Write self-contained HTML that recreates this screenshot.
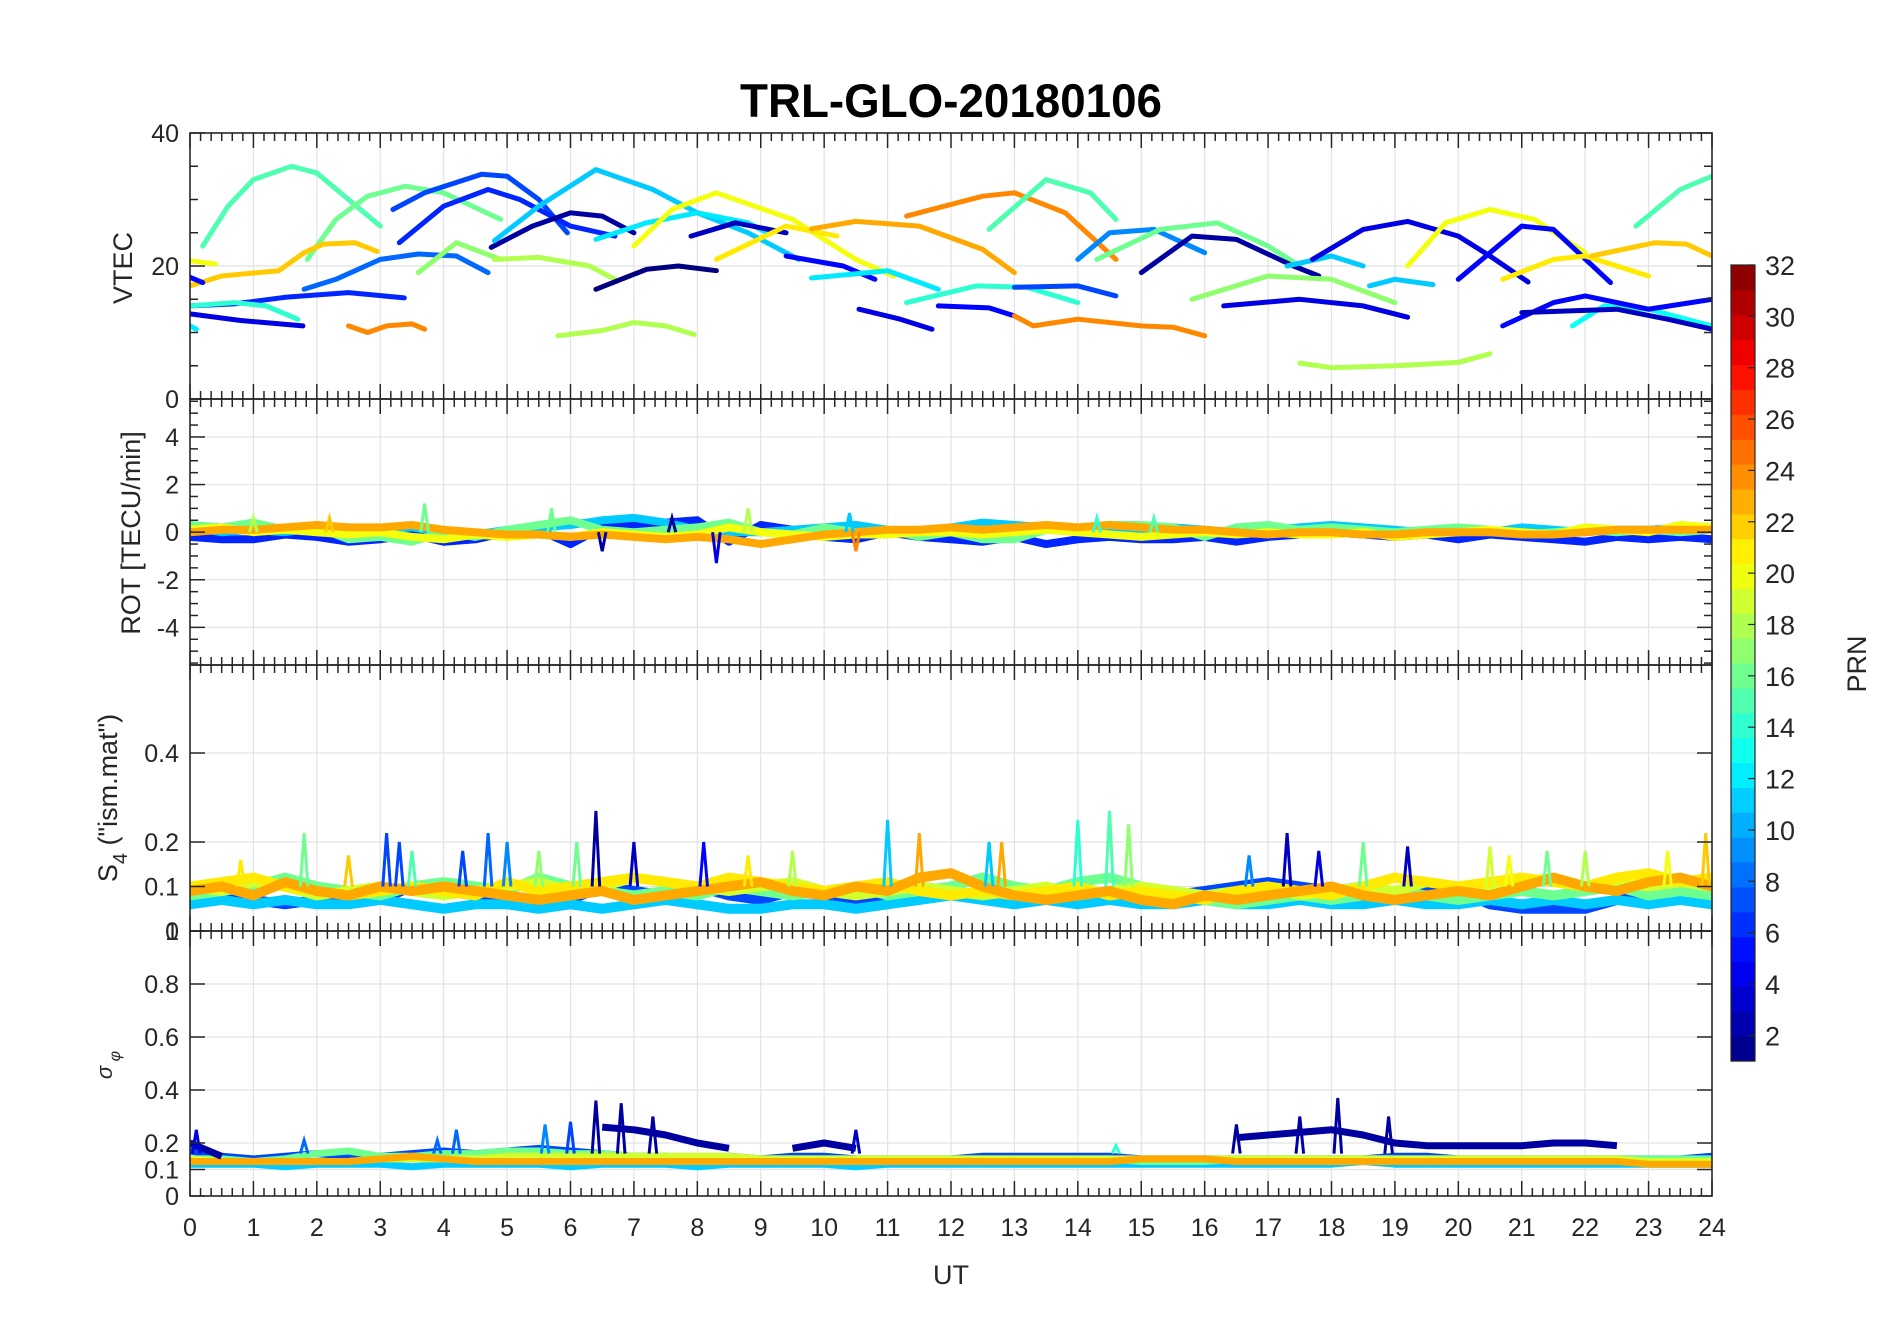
<!DOCTYPE html>
<html><head><meta charset="utf-8"><title>TRL-GLO-20180106</title>
<style>html,body{margin:0;padding:0;background:#fff}svg{display:block;font-family:"Liberation Sans",Arial,sans-serif}</style>
</head><body>
<svg id="chart" xmlns="http://www.w3.org/2000/svg" width="1902" height="1330" viewBox="0 0 1902 1330">
<rect x="0" y="0" width="1902" height="1330" fill="#fff"/>
<defs>
<clipPath id="c0"><rect x="190" y="133" width="1522" height="266"/></clipPath>
<clipPath id="c1"><rect x="190" y="399" width="1522" height="266"/></clipPath>
<clipPath id="c2"><rect x="190" y="665" width="1522" height="266"/></clipPath>
<clipPath id="c3"><rect x="190" y="931" width="1522" height="265"/></clipPath>
</defs>
<text x="951" y="117" text-anchor="middle" font-size="47" font-weight="bold" textLength="422" lengthAdjust="spacingAndGlyphs" fill="#000">TRL-GLO-20180106</text>
<g id="grid"></g>
<g id="marks"></g>
<g id="axes"></g>
<text x="951" y="1284" text-anchor="middle" font-size="27" fill="#262626">UT</text>
<text transform="translate(132,268) rotate(-90)" text-anchor="middle" font-size="27" fill="#262626">VTEC</text>
<text transform="translate(140,533) rotate(-90)" text-anchor="middle" font-size="27" fill="#262626">ROT [TECU/min]</text>
<text transform="translate(117,798) rotate(-90)" text-anchor="middle" font-size="27" fill="#262626">S<tspan font-size="20" dy="10">4</tspan><tspan dy="-10"> ("ism.mat")</tspan></text>
<text transform="translate(112,1065) rotate(-90)" text-anchor="middle" font-size="22" font-style="italic" fill="#262626">σ<tspan font-size="16" dy="8"> φ</tspan></text>
<g id="colorbar"></g>
<text transform="translate(1866,664) rotate(-90)" text-anchor="middle" font-size="27" fill="#262626">PRN</text>
</svg>
<script>
const hourTicks = [0,1,2,3,4,5,6,7,8,9,10,11,12,13,14,15,16,17,18,19,20,21,22,23,24];
const halfHours = [0,0.5,1,1.5,2,2.5,3,3.5,4,4.5,5,5.5,6,6.5,7,7.5,8,8.5,9,9.5,10,10.5,11,11.5,12,12.5,13,13.5,14,14.5,15,15.5,16,16.5,17,17.5,18,18.5,19,19.5,20,20.5,21,21.5,22,22.5,23,23.5,24];
const prnTicks = [2,4,6,8,10,12,14,16,18,20,22,24,26,28,30,32];
const vtecPrn = [15,16,22,20,5,6,4,14,12,8,24,7,6,17,2,11,18,12,20,1,3,21,5,23,24,12,14,15,7,5,4,24,18,9,16,2,17,4,18,11,11,4,20,5,21,22,15,13,5,3];
const vtecArcs = [
[[0.2,23],[0.6,29],[1.0,33],[1.6,35],[2.0,34],[2.5,30],[3.0,26]],
[[1.85,21],[2.3,27],[2.8,30.5],[3.4,32],[4.0,31],[4.9,27]],
[[0,17],[0.5,18.5],[1.4,19.3],[1.8,22],[2.1,23.3],[2.6,23.5],[2.95,22.2]],
[[0,20.8],[0.4,20.3]],
[[0,18.3],[0.2,17.5]],
[[0,14],[0.7,14.3],[1.5,15.3],[2.5,16],[3.38,15.2]],
[[0,12.8],[0.8,11.8],[1.78,11]],
[[0,14],[0.7,14.5],[1.2,14],[1.7,12]],
[[0,11],[0.1,10.5]],
[[1.8,16.5],[2.3,18],[3.0,21],[3.6,21.8],[4.2,21.5],[4.7,19]],
[[2.5,11],[2.8,10],[3.1,11],[3.5,11.3],[3.7,10.5]],
[[3.2,28.5],[3.7,31],[4.6,33.8],[5.0,33.5],[5.5,30],[5.95,25]],
[[3.3,23.5],[4.0,29],[4.7,31.5],[5.2,30],[6.0,26],[6.7,24.5]],
[[3.6,19],[4.2,23.5],[4.9,21]],
[[4.75,22.8],[5.4,26],[6.0,28],[6.5,27.5],[7.0,25]],
[[4.8,23.8],[5.5,29],[6.4,34.5],[7.3,31.5],[8.0,28],[8.8,25],[9.6,21]],
[[4.8,21],[5.5,21.3],[6.3,20],[6.7,18]],
[[6.4,24],[7.2,26.5],[8.0,28],[8.8,26.5],[9.1,25]],
[[7.0,23],[7.6,28.5],[8.3,31],[9.5,27],[10.5,21],[11.1,18.5]],
[[6.4,16.5],[7.2,19.5],[7.7,20],[8.3,19.3]],
[[7.9,24.5],[8.6,26.5],[9.4,25]],
[[8.3,21],[9.4,26],[10.2,24.5]],
[[9.4,21.5],[10.3,20],[10.8,18]],
[[9.8,25.6],[10.5,26.7],[11.5,26],[12.5,22.5],[13.0,19]],
[[11.3,27.5],[12.5,30.5],[13.0,31],[13.8,28],[14.6,21]],
[[9.8,18.2],[11.0,19.3],[11.8,16.5]],
[[11.3,14.5],[12.4,17],[13.2,16.8],[14.0,14.5]],
[[12.6,25.5],[13.5,33],[14.2,31],[14.6,27]],
[[13.0,16.8],[14.0,17],[14.6,15.5]],
[[11.8,14],[12.6,13.7],[13.0,12.5]],
[[10.55,13.5],[11.2,12],[11.7,10.5]],
[[13.0,12.5],[13.3,11],[14.0,12],[15.0,11],[15.5,10.8],[16.0,9.5]],
[[5.8,9.5],[6.5,10.3],[7.0,11.5],[7.5,11],[7.95,9.7]],
[[14.0,21],[14.5,25],[15.2,25.5],[16.0,22]],
[[14.3,21],[15.3,25.5],[16.2,26.5],[17.0,23],[17.5,20]],
[[15.0,19],[15.8,24.5],[16.5,24],[17.4,20],[17.8,18.5]],
[[15.8,15],[17.0,18.5],[18.0,18],[19.0,14.5]],
[[16.3,14],[17.5,15],[18.5,14],[19.2,12.3]],
[[17.5,5.4],[18.0,4.7],[19.0,5],[20.0,5.5],[20.5,6.8]],
[[17.3,20],[18.0,21.5],[18.5,20]],
[[18.6,17],[19.0,18],[19.6,17.2]],
[[17.7,21],[18.5,25.5],[19.2,26.7],[20.0,24.5],[20.5,21.5],[21.1,17.6]],
[[19.2,20],[19.8,26.5],[20.5,28.5],[21.2,27],[22.0,22]],
[[20.0,18],[21.0,26],[21.5,25.5],[22.4,17.5]],
[[20.7,18],[21.5,21],[22.0,21.5],[23.0,18.5]],
[[22.1,21.5],[23.1,23.5],[23.6,23.3],[24,21.5]],
[[22.8,26],[23.5,31.5],[24,33.5]],
[[21.8,11],[22.3,14],[23.0,13.5],[24,11]],
[[20.7,11],[21.5,14.5],[22.0,15.5],[23.0,13.5],[24,15]],
[[21.0,13],[22.5,13.5],[23.3,12],[24,10.5]]
];
const rotPrn = [6,11,16,20,23];
const rot6  = [-0.2,-0.3,-0.3,-0.1,-0.2,-0.4,-0.3,-0.1,-0.4,-0.3,0.0,0.1,-0.5,0.2,0.3,0.4,0.5,-0.4,0.3,0.1,-0.2,-0.3,0.0,-0.2,-0.3,-0.4,-0.2,-0.5,-0.3,-0.2,-0.3,-0.3,-0.2,-0.4,-0.2,-0.1,0.0,-0.1,-0.2,-0.1,-0.3,-0.1,-0.2,-0.3,-0.4,-0.2,-0.3,-0.2,-0.3];
const rot11 = [0.2,0.0,0.1,0.0,0.2,0.0,0.1,0.2,0.0,-0.1,0.1,0.2,0.3,0.5,0.6,0.4,0.1,0.0,0.0,0.1,0.2,0.3,0.1,0.0,0.2,0.4,0.3,0.2,0.1,0.0,0.1,0.2,0.1,0.0,0.1,0.2,0.3,0.2,0.1,0.0,0.1,0.0,0.2,0.1,0.0,0.1,0.1,0.2,0.1];
const rot16 = [0.3,0.2,0.4,0.1,0.2,-0.3,-0.2,-0.4,0.0,-0.2,0.1,0.3,0.5,0.1,0.0,0.1,0.2,0.4,0.0,-0.1,0.2,0.0,0.1,-0.2,0.0,-0.3,-0.3,0.1,0.2,0.3,0.3,0.2,-0.2,0.2,0.3,0.1,0.2,0.1,0.0,0.1,0.2,0.1,-0.1,0.0,0.1,0.0,0.1,0.0,0.1];
const rot20 = [0.1,0.2,0.0,0.1,0.0,-0.1,0.0,-0.2,-0.3,-0.1,-0.2,-0.1,-0.2,0.0,-0.1,-0.2,-0.1,0.2,0.0,-0.1,-0.2,-0.1,-0.1,0.0,0.0,-0.1,0.0,0.1,0.0,-0.1,-0.2,-0.1,0.0,-0.1,0.0,-0.1,-0.1,0.0,-0.2,-0.1,0.0,0.1,0.0,-0.1,0.2,0.1,0.0,0.3,0.2];
const rot23 = [0.0,0.1,0.1,0.2,0.3,0.2,0.2,0.3,0.1,0.0,-0.1,-0.1,-0.2,-0.1,-0.2,-0.3,-0.2,-0.3,-0.5,-0.3,-0.1,0.0,0.1,0.1,0.2,0.1,0.2,0.3,0.2,0.3,0.2,0.1,0.1,0.0,-0.1,0.0,0.0,-0.1,-0.1,0.0,0.0,0.0,-0.1,-0.1,0.0,0.1,0.1,0.1,0.1];
const rotSpikes = [[6.5,-0.8,2],[8.3,-1.3,4],[10.5,-0.8,24],[3.7,1.2,16],[5.7,1.0,16],[8.8,1.0,18],[10.4,0.8,11],[1.0,0.6,18],[7.6,0.6,2],[2.2,0.6,22],[14.3,0.6,14],[15.2,0.6,15]];
const s4Prn = [7,11,16,19,21,23];
const s4_7  = [0.08,0.09,0.07,0.06,0.07,0.08,0.07,0.10,0.09,0.08,0.07,0.06,0.07,0.10,0.09,0.08,0.10,0.08,0.07,0.09,0.08,0.07,0.08,0.10,0.09,0.08,0.09,0.08,0.07,0.08,0.07,0.08,0.09,0.10,0.11,0.10,0.09,0.10,0.08,0.10,0.09,0.06,0.05,0.05,0.05,0.07,0.08,0.09,0.08];
const s4_11 = [0.06,0.07,0.06,0.07,0.06,0.06,0.07,0.06,0.05,0.06,0.06,0.05,0.06,0.05,0.06,0.07,0.06,0.05,0.05,0.06,0.06,0.05,0.06,0.07,0.08,0.07,0.06,0.07,0.06,0.07,0.06,0.06,0.07,0.06,0.06,0.07,0.06,0.06,0.07,0.06,0.06,0.07,0.06,0.07,0.06,0.07,0.06,0.07,0.06];
const s4_16 = [0.08,0.09,0.10,0.12,0.10,0.09,0.08,0.10,0.11,0.10,0.09,0.12,0.10,0.09,0.08,0.09,0.08,0.10,0.09,0.08,0.09,0.10,0.08,0.09,0.10,0.12,0.10,0.09,0.11,0.12,0.10,0.08,0.07,0.06,0.07,0.08,0.07,0.08,0.09,0.08,0.07,0.08,0.09,0.08,0.09,0.10,0.08,0.09,0.08];
const s4_19 = [0.10,0.09,0.11,0.10,0.08,0.09,0.10,0.09,0.08,0.09,0.10,0.11,0.09,0.10,0.12,0.11,0.10,0.09,0.10,0.11,0.09,0.08,0.09,0.10,0.09,0.08,0.09,0.10,0.08,0.09,0.10,0.09,0.08,0.09,0.10,0.08,0.09,0.10,0.09,0.11,0.10,0.09,0.11,0.12,0.10,0.11,0.10,0.11,0.10];
const s4_21 = [0.10,0.11,0.12,0.10,0.09,0.08,0.09,0.10,0.09,0.08,0.11,0.09,0.10,0.11,0.12,0.11,0.10,0.12,0.11,0.10,0.09,0.10,0.11,0.09,0.08,0.09,0.08,0.09,0.10,0.08,0.09,0.08,0.07,0.09,0.10,0.09,0.08,0.10,0.12,0.11,0.10,0.11,0.12,0.11,0.10,0.12,0.13,0.11,0.12];
const s4_23 = [0.09,0.10,0.08,0.11,0.09,0.08,0.10,0.09,0.10,0.09,0.08,0.07,0.08,0.09,0.07,0.08,0.09,0.10,0.11,0.09,0.08,0.10,0.09,0.12,0.13,0.10,0.08,0.07,0.08,0.09,0.07,0.06,0.08,0.07,0.08,0.09,0.10,0.08,0.07,0.08,0.09,0.08,0.10,0.12,0.10,0.09,0.11,0.12,0.10];
const s4Spikes = [[1.8,0.22,16],[3.1,0.22,7],[3.3,0.20,7],[4.7,0.22,8],[5.0,0.20,9],[6.4,0.27,2],[6.1,0.20,16],[7.0,0.20,3],[8.1,0.20,5],[11.0,0.25,11],[11.5,0.22,23],[12.8,0.20,23],[12.6,0.20,11],[14.0,0.25,14],[14.5,0.27,15],[14.8,0.24,17],[17.3,0.22,3],[18.5,0.20,16],[19.2,0.19,3],[20.5,0.19,19],[22.0,0.18,18],[23.9,0.22,22],[3.5,0.18,15],[9.5,0.18,18],[2.5,0.17,22],[0.8,0.16,21],[5.5,0.18,17],[4.3,0.18,7],[8.8,0.17,21],[16.7,0.17,9],[17.8,0.18,4],[20.8,0.17,20],[21.4,0.18,16],[23.3,0.18,20]];
const sigPrn = [7,11,16,19,23,2];
const sig7  = [0.17,0.15,0.14,0.15,0.16,0.15,0.15,0.16,0.17,0.16,0.17,0.18,0.17,0.16,0.15,0.15,0.14,0.15,0.14,0.15,0.15,0.14,0.14,0.14,0.14,0.15,0.15,0.15,0.15,0.15,0.14,0.14,0.14,0.14,0.14,0.14,0.14,0.14,0.15,0.15,0.14,0.14,0.14,0.14,0.14,0.14,0.14,0.14,0.15];
const sig11 = [0.12,0.12,0.12,0.11,0.12,0.12,0.12,0.11,0.12,0.12,0.12,0.12,0.11,0.12,0.12,0.12,0.11,0.12,0.12,0.12,0.12,0.11,0.12,0.12,0.12,0.12,0.12,0.12,0.12,0.12,0.12,0.12,0.12,0.12,0.12,0.12,0.12,0.13,0.12,0.12,0.12,0.12,0.12,0.12,0.12,0.12,0.12,0.12,0.12];
const sig16 = [0.14,0.14,0.13,0.14,0.16,0.17,0.15,0.15,0.16,0.16,0.17,0.17,0.16,0.16,0.15,0.15,0.14,0.14,0.14,0.14,0.14,0.14,0.14,0.14,0.14,0.14,0.14,0.14,0.14,0.14,0.13,0.13,0.13,0.14,0.14,0.14,0.14,0.14,0.14,0.14,0.14,0.13,0.14,0.14,0.14,0.14,0.14,0.14,0.14];
const sig19 = [0.14,0.13,0.13,0.13,0.13,0.13,0.14,0.14,0.14,0.14,0.15,0.15,0.15,0.15,0.15,0.15,0.15,0.15,0.14,0.14,0.14,0.14,0.14,0.14,0.14,0.14,0.14,0.14,0.14,0.14,0.14,0.14,0.14,0.14,0.14,0.14,0.14,0.14,0.14,0.14,0.14,0.14,0.14,0.14,0.14,0.14,0.13,0.13,0.13];
const sig23 = [0.13,0.13,0.13,0.13,0.13,0.13,0.14,0.15,0.14,0.13,0.13,0.13,0.13,0.13,0.13,0.13,0.13,0.13,0.13,0.13,0.13,0.13,0.13,0.13,0.13,0.13,0.13,0.13,0.13,0.13,0.14,0.14,0.14,0.13,0.13,0.13,0.13,0.13,0.13,0.13,0.13,0.13,0.13,0.13,0.13,0.13,0.12,0.12,0.12];
const sig2  = [0.20,0.15,null,null,null,null,null,null,null,null,null,null,null,0.26,0.25,0.23,0.20,0.18,null,0.18,0.20,0.18,null,null,null,null,null,null,null,null,null,null,null,0.22,0.23,0.24,0.25,0.23,0.20,0.19,0.19,0.19,0.19,0.20,0.20,0.19,null,null,null];
const sigSpikes = [[6.4,0.36,2],[6.8,0.35,2],[7.3,0.30,2],[16.5,0.27,2],[17.5,0.30,2],[18.1,0.37,2],[18.9,0.30,2],[10.5,0.25,3],[5.6,0.27,9],[6.0,0.28,7],[4.2,0.25,8],[0.1,0.25,4],[1.8,0.21,8],[3.9,0.21,8],[14.6,0.19,14]];

const NS = 'http://www.w3.org/2000/svg';
const X0 = 190, X1 = 1712;
const xs = t => X0 + t * (X1 - X0) / 24;
const panels = [
  {top:133, bot:399, min:0, max:40},
  {top:399, bot:665, min:-5.581, max:5.595},
  {top:665, bot:931, min:0, max:0.5978},
  {top:931, bot:1196, min:0, max:1}
];
const ys = (p, v) => { const P = panels[p]; return P.bot - (v - P.min) / (P.max - P.min) * (P.bot - P.top); };
function jet(prn){
  const x = (prn - 1) / 31;
  const c = v => Math.round(255 * Math.max(0, Math.min(1, v)));
  return `rgb(${c(1.5-Math.abs(4*x-3))},${c(1.5-Math.abs(4*x-2))},${c(1.5-Math.abs(4*x-1))})`;
}
function mk(tag, attrs, parent){
  const e = document.createElementNS(NS, tag);
  for (const k in attrs) e.setAttribute(k, attrs[k]);
  parent.appendChild(e); return e;
}
const gGrid = document.getElementById('grid'), gMarks = document.getElementById('marks'), gAxes = document.getElementById('axes');

const yGrid = [[20],[-4,-2,0,2,4],[0.1,0.2,0.4],[0.1,0.2,0.4,0.6,0.8]];
panels.forEach((P, i) => {
  hourTicks.slice(1, -1).forEach(h => {
    const l = mk('line', {x1:xs(h), x2:xs(h), y1:P.top, y2:P.bot, stroke:'#e3e3e3', 'stroke-width':1.2}, gGrid);
    
    
  });
  yGrid[i].forEach(v => {
    const l = mk('line', {x1:X0, x2:X1, y1:ys(i, v), y2:ys(i, v), stroke:'#e3e3e3', 'stroke-width':1.2}, gGrid);
    
    
  });
});

const g0 = mk('g', {'clip-path':'url(#c0)'}, gMarks);
vtecArcs.forEach((arc, k) => {
  const d = arc.map((p, j) => (j ? 'L' : 'M') + xs(p[0]).toFixed(1) + ',' + ys(0, p[1]).toFixed(1)).join('');
  const e = mk('path', {d, fill:'none', stroke:jet(vtecPrn[k]), 'stroke-width':5, 'stroke-linejoin':'round', 'stroke-linecap':'round'}, g0);
  
  
});

function drawSeries(p, grp, series, prn, width, name){
  let d = '', pen = false;
  series.forEach((v, j) => {
    if (v === null) { pen = false; return; }
    d += (pen ? 'L' : 'M') + xs(halfHours[j]).toFixed(1) + ',' + ys(p, v).toFixed(1);
    pen = true;
  });
  const e = mk('path', {d, fill:'none', stroke:jet(prn), 'stroke-width':width, 'stroke-linejoin':'round'}, grp);
  
  
}
function drawSpikes(p, grp, spikes, base, name){
  spikes.forEach(s => {
    const e = mk('path', {d:`M${xs(s[0]-0.06).toFixed(1)},${ys(p, base).toFixed(1)}L${xs(s[0]).toFixed(1)},${ys(p, s[1]).toFixed(1)}L${xs(s[0]+0.06).toFixed(1)},${ys(p, base).toFixed(1)}`, fill:'none', stroke:jet(s[2]), 'stroke-width':3, 'stroke-linejoin':'miter'}, grp);
    
    
  });
}
const g1 = mk('g', {'clip-path':'url(#c1)'}, gMarks);
[rot6, rot11, rot16, rot20, rot23].forEach((s, i) => drawSeries(1, g1, s, rotPrn[i], 8, 'rot-trace'));
drawSpikes(1, g1, rotSpikes, 0, 'rot');
const g2 = mk('g', {'clip-path':'url(#c2)'}, gMarks);
[s4_7, s4_11, s4_16, s4_19, s4_21, s4_23].forEach((s, i) => drawSeries(2, g2, s, s4Prn[i], 10, 's4-trace'));
drawSpikes(2, g2, s4Spikes, 0.1, 's4');
const g3 = mk('g', {'clip-path':'url(#c3)'}, gMarks);
[sig7, sig11, sig16, sig19, sig23, sig2].forEach((s, i) => drawSeries(3, g3, s, sigPrn[i], 7, 'sigma-trace'));
drawSpikes(3, g3, sigSpikes, 0.16, 'sigma');

const yTickLabels = [['0','20','40'],['-4','-2','0','2','4'],['0','0.1','0.2','0.4'],['0','0.1','0.2','0.4','0.6','0.8','1']];
const yTickVals = [[0,20,40],[-4,-2,0,2,4],[0,0.1,0.2,0.4],[0,0.1,0.2,0.4,0.6,0.8,1]];
const yMinor = [[5,10,15,25,30,35],[-5.5,-5,-4.5,-3.5,-3,-2.5,-1.5,-1,-0.5,0.5,1,1.5,2.5,3,3.5,4.5,5,5.5],[],[]];
const ink = '#262626';
panels.forEach((P, i) => {
  const r = mk('rect', {x:X0, y:P.top, width:X1-X0, height:P.bot-P.top, fill:'none', stroke:ink, 'stroke-width':1.6}, gAxes);
  
  
  for (let m = 0; m <= 144; m++) {
    const x = xs(m / 6), len = (m % 6 === 0) ? 15 : 8;
    mk('line', {x1:x, x2:x, y1:P.bot, y2:P.bot-len, stroke:ink, 'stroke-width':1.5}, gAxes);
    mk('line', {x1:x, x2:x, y1:P.top, y2:P.top+len, stroke:ink, 'stroke-width':1.5}, gAxes);
  }
  yTickVals[i].forEach((v, j) => {
    const y = ys(i, v);
    mk('line', {x1:X0, x2:X0+15, y1:y, y2:y, stroke:ink, 'stroke-width':1.5}, gAxes);
    mk('line', {x1:X1, x2:X1-15, y1:y, y2:y, stroke:ink, 'stroke-width':1.5}, gAxes);
    const t = mk('text', {x:179, y:y+9, 'text-anchor':'end', 'font-size':25, fill:ink}, gAxes);
    t.textContent = yTickLabels[i][j];
    
    
  });
  yMinor[i].forEach(v => {
    const y = ys(i, v);
    mk('line', {x1:X0, x2:X0+8, y1:y, y2:y, stroke:ink, 'stroke-width':1.5}, gAxes);
    mk('line', {x1:X1, x2:X1-8, y1:y, y2:y, stroke:ink, 'stroke-width':1.5}, gAxes);
  });
});
hourTicks.forEach(h => {
  const t = mk('text', {x:xs(h), y:1236, 'text-anchor':'middle', 'font-size':25, fill:ink}, gAxes);
  t.textContent = String(h);
  
  
});

const cb = document.getElementById('colorbar');
const CBT = 265, CBB = 1061, CBX = 1731, CBW = 24;
const cby = v => CBB - (v - 1) / 31 * (CBB - CBT);
for (let k = 1; k <= 32; k++) {
  const y0 = CBB - (k - 1) / 32 * (CBB - CBT), y1 = CBB - k / 32 * (CBB - CBT);
  const r = mk('rect', {x:CBX, y:y1, width:CBW, height:y0-y1+0.6, fill:jet(1 + (k - 0.5) / 32 * 31)}, cb);
  
  
}
const cbf = mk('rect', {x:CBX, y:CBT, width:CBW, height:CBB-CBT, fill:'none', stroke:ink, 'stroke-width':1.2}, cb);


prnTicks.forEach(v => {
  const y = cby(v);
  mk('line', {x1:CBX+CBW-7, x2:CBX+CBW, y1:y, y2:y, stroke:ink, 'stroke-width':1.2}, cb);
  const t = mk('text', {x:CBX+34, y:y+10, 'font-size':27, fill:ink}, cb);
  t.textContent = String(v);
  
  
});
</script>
</body></html>
